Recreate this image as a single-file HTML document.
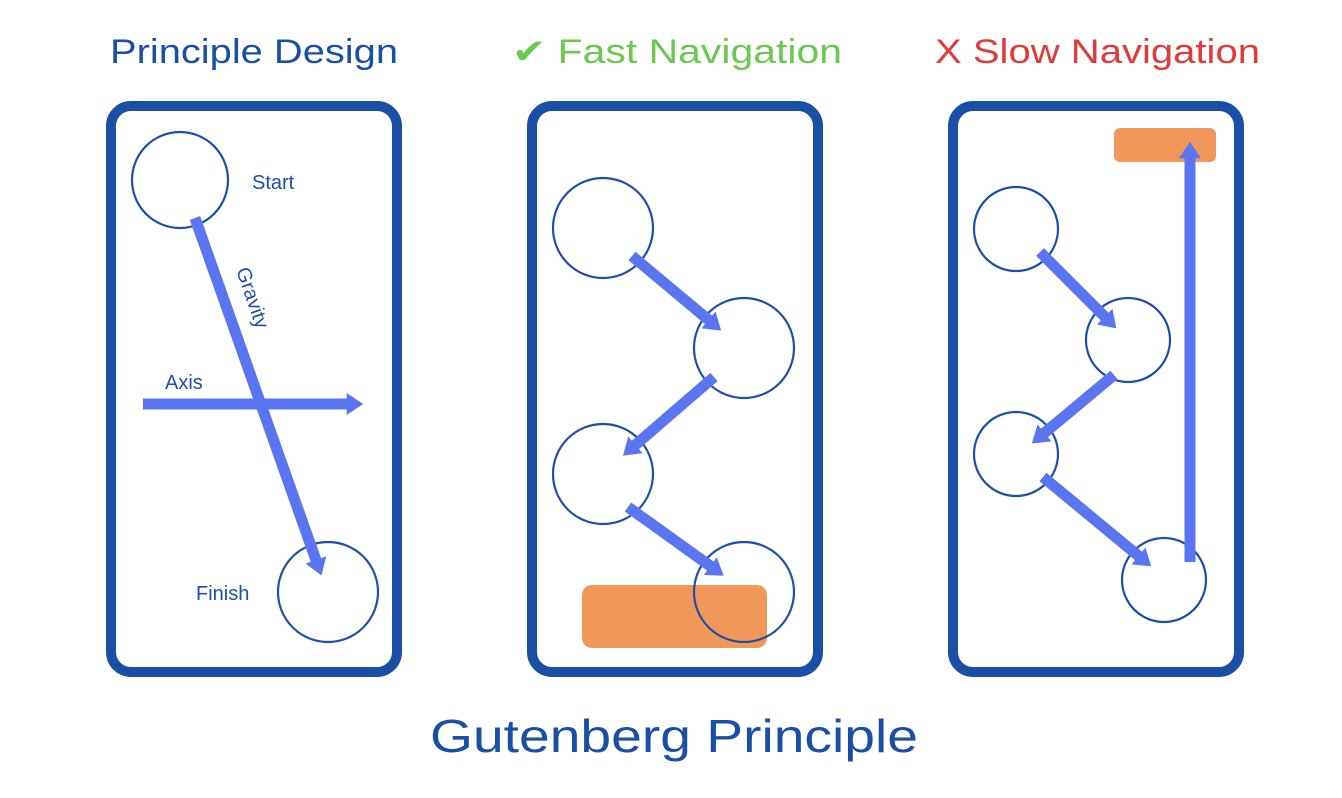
<!DOCTYPE html>
<html><head><meta charset="utf-8"><style>html,body{margin:0;padding:0;background:#fff}svg{display:block}text{font-family:"Liberation Sans",sans-serif}</style></head>
<body>
<svg width="1342" height="798" viewBox="0 0 1342 798" xmlns="http://www.w3.org/2000/svg">
<defs>
<marker id="ah" markerWidth="1.5" markerHeight="2" refX="0.3" refY="1" orient="auto" markerUnits="strokeWidth">
<path d="M0,0 L1.5,1 L0,2 z" fill="#5b74f0"/>
</marker>
</defs>
<text x="110" y="63" font-size="34" fill="#1a4fa6" textLength="288" lengthAdjust="spacingAndGlyphs">Principle Design</text>
<text x="512" y="63" font-size="34" fill="#6cc84f" textLength="330" lengthAdjust="spacingAndGlyphs">✔ Fast Navigation</text>
<text x="935" y="63" font-size="34" fill="#e03a3a" textLength="325" lengthAdjust="spacingAndGlyphs">X Slow Navigation</text>
<text x="430" y="752" font-size="46" fill="#1a4fa6" textLength="488" lengthAdjust="spacingAndGlyphs">Gutenberg Principle</text>

<g fill="none" stroke="#1a4fa6" stroke-width="10">
<rect x="111" y="106" width="286" height="566" rx="20"/>
<rect x="532" y="106" width="286" height="566" rx="20"/>
<rect x="953" y="106" width="286" height="566" rx="20"/>
</g>

<rect x="582" y="585" width="185" height="63" rx="10" fill="#f2975a"/>
<rect x="1114" y="128" width="102" height="34" rx="6" fill="#f2975a"/>

<g fill="none" stroke="#1f4fa8" stroke-width="2.2">
<circle cx="180" cy="180" r="48"/>
<circle cx="328" cy="592" r="50"/>
<circle cx="603" cy="228" r="50"/>
<circle cx="744" cy="348" r="50"/>
<circle cx="603" cy="474" r="50"/>
<circle cx="744" cy="592" r="50"/>
<circle cx="1016" cy="229" r="42"/>
<circle cx="1128" cy="340" r="42"/>
<circle cx="1016" cy="454" r="42"/>
<circle cx="1164" cy="580" r="42"/>
</g>

<g stroke="#5b74f0" stroke-width="11" marker-end="url(#ah)">
<line x1="195" y1="218" x2="317" y2="563"/>
<line x1="143" y1="404" x2="350" y2="404"/>
<line x1="632" y1="256" x2="711" y2="322"/>
<line x1="714" y1="377" x2="633" y2="447"/>
<line x1="628" y1="507" x2="713" y2="568"/>
<line x1="1040" y1="252" x2="1107" y2="319"/>
<line x1="1114" y1="375" x2="1042" y2="435"/>
<line x1="1043" y1="477" x2="1141" y2="558"/>
<line x1="1190" y1="562" x2="1190" y2="155"/>
</g>

<g fill="#1f4fa8" font-size="20">
<text x="252" y="189">Start</text>
<text x="165" y="389">Axis</text>
<text x="196" y="600">Finish</text>
<text x="0" y="0" transform="translate(236,270) rotate(71)">Gravity</text>
</g>
</svg>
</body></html>
